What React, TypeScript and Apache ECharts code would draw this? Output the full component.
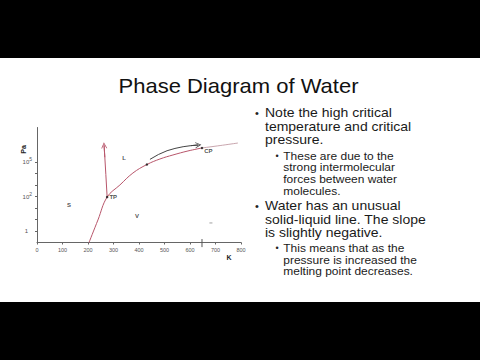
import React, { useEffect, useRef } from "react";
import * as echarts from "echarts";

// ---- data ----
const xMin = 0;
const xMax = 800;
const xInterval = 100;
const yMin = 0;
const yMax = 10;
const yTickValues = [1, 2, 3, 4, 5, 6, 7];
const yLabelValues = [1, 4, 7];
const yLabelTexts = ["{p|1}", "10{s|2}", "10{s|5}"];

const boundaryCurve: number[][] = [
  [204, 0], [239, 1.96], [275, 3.95], [325, 5.0], [376, 6.04],
  [431, 6.78], [482, 7.26], [533, 7.61], [592, 7.96], [647, 8.22],
];
const supercriticalCurve: number[][] = [[647, 8.22], [718, 8.43], [788, 8.65]];
const meltingLine: number[][] = [[275, 3.95], [270, 5.9], [266, 7.4], [263, 8.45]];
const heatingArrow: number[][] = [
  [443, 7.23], [476, 7.65], [510, 7.98], [541, 8.18], [573, 8.33], [603, 8.42], [633, 8.48],
];
const specialPoints = [
  { name: "TP", value: [275, 3.95] },
  { name: "CP", value: [647, 8.22] },
  { name: "", value: [431, 6.78] },
];
const phaseLabels = [
  { name: "S", value: [125, 3.26] },
  { name: "L", value: [341, 7.35] },
  { name: "V", value: [392, 2.3] },
];
const criticalTempTick: number[][] = [[647, 0.3], [647, -0.4]];
const strayMark: number[][] = [[682, 1.7]];

const titleText = "Phase Diagram of Water";
const bullet1 = "Note the high critical\ntemperature and critical\npressure.";
const sub1 = "These are due to the\nstrong intermolecular\nforces between water\nmolecules.";
const bullet2 = "Water has an unusual\nsolid-liquid line. The slope\nis slightly negative.";
const sub2 = "This means that as the\npressure is increased the\nmelting point decreases.";

const FONT = '"Liberation Sans", Arial, sans-serif';
const CHEVRON = "path://M0,10 L5,0 L10,10 L8.6,10 L5,2.8 L1.4,10 Z";

function arrowSeries(points: number[][], color: string) {
  const n = points.length;
  return [
    {
      type: "lines",
      coordinateSystem: "cartesian2d",
      polyline: true,
      symbol: "none",
      lineStyle: { color, width: 1, opacity: 1 },
      data: [{ coords: points }],
      z: 3,
    },
    {
      type: "lines",
      coordinateSystem: "cartesian2d",
      polyline: false,
      symbol: ["none", CHEVRON],
      symbolSize: [5, 6],
      lineStyle: { color, width: 1, opacity: 1, curveness: 0 },
      data: [{ coords: [points[n - 2], points[n - 1]] }],
      z: 3,
    },
  ];
}

export default function App() {
  const ref = useRef<HTMLDivElement>(null);
  useEffect(() => {
    if (!ref.current) return;
    const chart = echarts.init(ref.current, null, { renderer: "svg" });
    const curveColor = "#b8566b";
    chart.setOption({
      animation: false,
      backgroundColor: "#ffffff",
      grid: { left: 37, right: 239, top: 127.5, bottom: 117.5, containLabel: false },
      xAxis: {
        type: "value",
        min: xMin,
        max: xMax,
        interval: xInterval,
        axisLine: { lineStyle: { color: "#666", width: 1 } },
        axisTick: { show: true, length: 2, lineStyle: { color: "#666" } },
        splitLine: { show: false },
        axisLabel: { fontSize: 5.5, color: "#555", margin: 4, fontFamily: FONT, showMinLabel: true, showMaxLabel: true },
      },
      yAxis: {
        type: "value",
        min: yMin,
        max: yMax,
        axisLine: { show: true, lineStyle: { color: "#666", width: 1 } },
        axisTick: { show: true, length: 2, customValues: yTickValues, lineStyle: { color: "#666" } },
        splitLine: { show: false },
        axisLabel: {
          customValues: yLabelValues,
          margin: 5,
          fontSize: 6,
          color: "#555",
          fontFamily: FONT,
          formatter: (v: number) => yLabelTexts[yLabelValues.indexOf(v)] ?? "",
          rich: {
            p: { fontSize: 6, color: "#555", padding: [0, 4, 0, 0] },
            s: { fontSize: 5, color: "#555", verticalAlign: "top", lineHeight: 11 },
          },
        },
      },
      graphic: [
        { type: "rect", shape: { x: 0, y: 0, width: 480, height: 58 }, style: { fill: "#000" }, silent: true },
        { type: "rect", shape: { x: 0, y: 302, width: 480, height: 58 }, style: { fill: "#000" }, silent: true },
        {
          type: "text", x: 238.5, y: 86, scaleX: 1.1,
          style: { text: titleText, fill: "#111", font: `20px ${FONT}`, textAlign: "center", textVerticalAlign: "middle" },
        },
        { type: "text", x: 257, y: 113, style: { text: "•", fill: "#222", font: `11px ${FONT}`, textAlign: "center", textVerticalAlign: "middle" } },
        {
          type: "text", x: 265, y: 106.3, scaleX: 1.12,
          style: { text: bullet1, fill: "#1a1a1a", font: `12.5px ${FONT}`, lineHeight: 13.5, textAlign: "left", textVerticalAlign: "top" },
        },
        { type: "text", x: 277, y: 156, style: { text: "•", fill: "#222", font: `9px ${FONT}`, textAlign: "center", textVerticalAlign: "middle" } },
        {
          type: "text", x: 283.3, y: 150.2, scaleX: 1.14,
          style: { text: sub1, fill: "#1a1a1a", font: `10.5px ${FONT}`, lineHeight: 11.7, textAlign: "left", textVerticalAlign: "top" },
        },
        { type: "text", x: 257, y: 206, style: { text: "•", fill: "#222", font: `11px ${FONT}`, textAlign: "center", textVerticalAlign: "middle" } },
        {
          type: "text", x: 265, y: 199.3, scaleX: 1.12,
          style: { text: bullet2, fill: "#1a1a1a", font: `12.5px ${FONT}`, lineHeight: 13.5, textAlign: "left", textVerticalAlign: "top" },
        },
        { type: "text", x: 277, y: 248.3, style: { text: "•", fill: "#222", font: `9px ${FONT}`, textAlign: "center", textVerticalAlign: "middle" } },
        {
          type: "text", x: 283.3, y: 242.5, scaleX: 1.14,
          style: { text: sub2, fill: "#1a1a1a", font: `10.5px ${FONT}`, lineHeight: 11.7, textAlign: "left", textVerticalAlign: "top" },
        },
        {
          type: "text", x: 23, y: 149.5, rotation: Math.PI / 2,
          style: { text: "Pa", fill: "#222", font: `bold 7px ${FONT}`, textAlign: "center", textVerticalAlign: "middle" },
        },
        {
          type: "text", x: 229, y: 257,
          style: { text: "K", fill: "#222", font: `bold 7px ${FONT}`, textAlign: "center", textVerticalAlign: "middle" },
        },
      ],
      series: [
        {
          type: "line",
          data: boundaryCurve,
          smooth: 0.4,
          symbol: "none",
          lineStyle: { color: curveColor, width: 1 },
          z: 3,
        },
        {
          type: "line",
          data: supercriticalCurve,
          smooth: 0.3,
          symbol: "none",
          lineStyle: { color: "#c9a6ae", width: 1 },
          z: 3,
        },
        ...arrowSeries(meltingLine, curveColor),
        ...arrowSeries(heatingArrow, "#444"),
        {
          type: "line",
          data: criticalTempTick,
          clip: false,
          symbol: "none",
          lineStyle: { color: "#555", width: 1 },
        },
        {
          type: "scatter",
          data: strayMark,
          symbol: "rect",
          symbolSize: [3, 1],
          itemStyle: { color: "#888" },
        },
        {
          type: "scatter",
          data: specialPoints,
          symbolSize: 2.5,
          itemStyle: { color: "#111" },
          z: 4,
          label: {
            show: true,
            formatter: "{b}",
            position: "right",
            distance: 1,
            offset: [0, 3],
            fontSize: 6,
            fontWeight: "bold",
            color: "#222",
            fontFamily: FONT,
          },
          labelLayout: (p: any) => (p.dataIndex === 1 ? { dx: 0, dy: 3 } : {}),
        },
        {
          type: "scatter",
          data: phaseLabels,
          symbolSize: 0,
          itemStyle: { color: "#222" },
          label: {
            show: true,
            formatter: "{b}",
            position: "inside",
            fontSize: 6,
            fontWeight: "bold",
            color: "#222",
            fontFamily: FONT,
          },
        },
      ],
    });
    return () => chart.dispose();
  }, []);
  return (
    <div
      ref={ref}
      style={{ position: "absolute", left: 0, top: 0, width: 480, height: 360 }}
    />
  );
}
